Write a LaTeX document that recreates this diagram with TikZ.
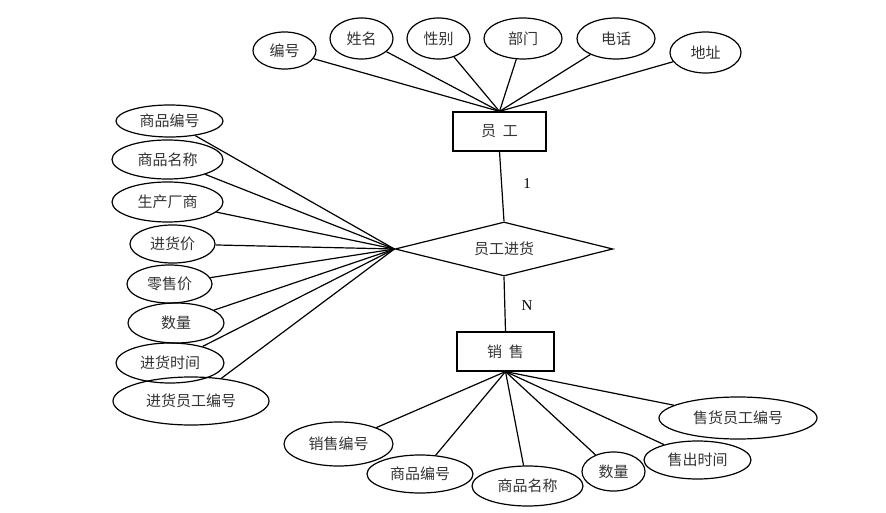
\documentclass[tikz,border=0pt]{standalone}
\usepackage{fontspec}
\setmainfont{Liberation Serif}
\newfontfamily\cjk{Noto Sans CJK SC}
\usetikzlibrary{shapes.geometric}
\begin{document}
\begin{tikzpicture}[x=1pt,y=-1pt,
  every node/.style={font=\cjk\fontsize{15}{17}\selectfont, text=black!80},
  attr/.style={draw, ellipse, inner sep=0pt, line width=1.2pt},
  ent/.style={draw, rectangle, inner sep=0pt, line width=1.2pt, minimum width=93pt, minimum height=39pt},
  rel/.style={draw, diamond, inner sep=0pt, aspect=4.04, line width=1.2pt, minimum width=218pt, minimum height=54pt},
  conn/.style={line width=1.2pt},
  card/.style={font=\rmfamily\fontsize{15}{17}\selectfont, text=black}]
\useasboundingbox (0,0) rectangle (886,513);
% entities and relation
\node[ent] (yg) at (499.5,131.5) {员\ \ 工};
\node[ent, minimum width=97pt] (xs) at (505.5,351.5) {销\ \ 售};
\node[rel] (jh) at (504,249) {员工进货};
% top attributes
\node[attr, minimum width=63pt, minimum height=37pt] (a1) at (284.5,50.5) {编号};
\node[attr, minimum width=63pt, minimum height=41pt] (a2) at (361.5,38.5) {姓名};
\node[attr, minimum width=63pt, minimum height=41pt] (a3) at (438.5,38.5) {性别};
\node[attr, minimum width=78pt, minimum height=41pt] (a4) at (523,38.5) {部门};
\node[attr, minimum width=78pt, minimum height=41pt] (a5) at (616,38.5) {电话};
\node[attr, minimum width=71pt, minimum height=41pt] (a6) at (705.5,52.5) {地址};
% left attributes
\node[attr, minimum width=107pt, minimum height=32pt] (b1) at (169.5,121) {商品编号};
\node[attr, minimum width=111pt, minimum height=39pt] (b2) at (167.5,159.5) {商品名称};
\node[attr, minimum width=111pt, minimum height=40pt] (b3) at (167.5,202) {生产厂商};
\node[attr, minimum width=85pt, minimum height=38pt] (b4) at (172.5,244) {进货价};
\node[attr, minimum width=85pt, minimum height=38pt] (b5) at (169.5,284) {零售价};
\node[attr, minimum width=96pt, minimum height=40pt] (b6) at (176,323) {数量};
\node[attr, minimum width=108pt, minimum height=40pt] (b7) at (170,363) {进货时间};
\node[attr, minimum width=156pt, minimum height=48pt] (b8) at (191,401) {进货员工编号};
% bottom attributes
\node[attr, minimum width=109pt, minimum height=44pt] (c1) at (338.5,444) {销售编号};
\node[attr, minimum width=106pt, minimum height=38pt] (c2) at (420,474) {商品编号};
\node[attr, minimum width=111pt, minimum height=40pt] (c3) at (527.5,486) {商品名称};
\node[attr, minimum width=63pt, minimum height=39pt] (c4) at (613.5,471.5) {数量};
\node[attr, minimum width=107pt, minimum height=38pt] (c5) at (697.5,460) {售出时间};
\node[attr, minimum width=158pt, minimum height=42pt] (c6) at (738,418) {售货员工编号};
% connectors
\foreach \n in {a1,a2,a3,a4,a5,a6} \draw[conn] (\n) -- (yg.north);
\foreach \n in {b1,b2,b3,b4,b5,b6,b7,b8} \draw[conn] (\n) -- (jh.west);
\foreach \n in {c1,c2,c3,c4,c5,c6} \draw[conn] (\n) -- (xs.south);
\draw[conn] (yg.south) -- (jh.north);
\draw[conn] (jh.south) -- (xs.north);
% cardinalities
\node[card] (k1) at (527,184) {1};
\node[card] (kn) at (527,306) {N};
\end{tikzpicture}
\end{document}
